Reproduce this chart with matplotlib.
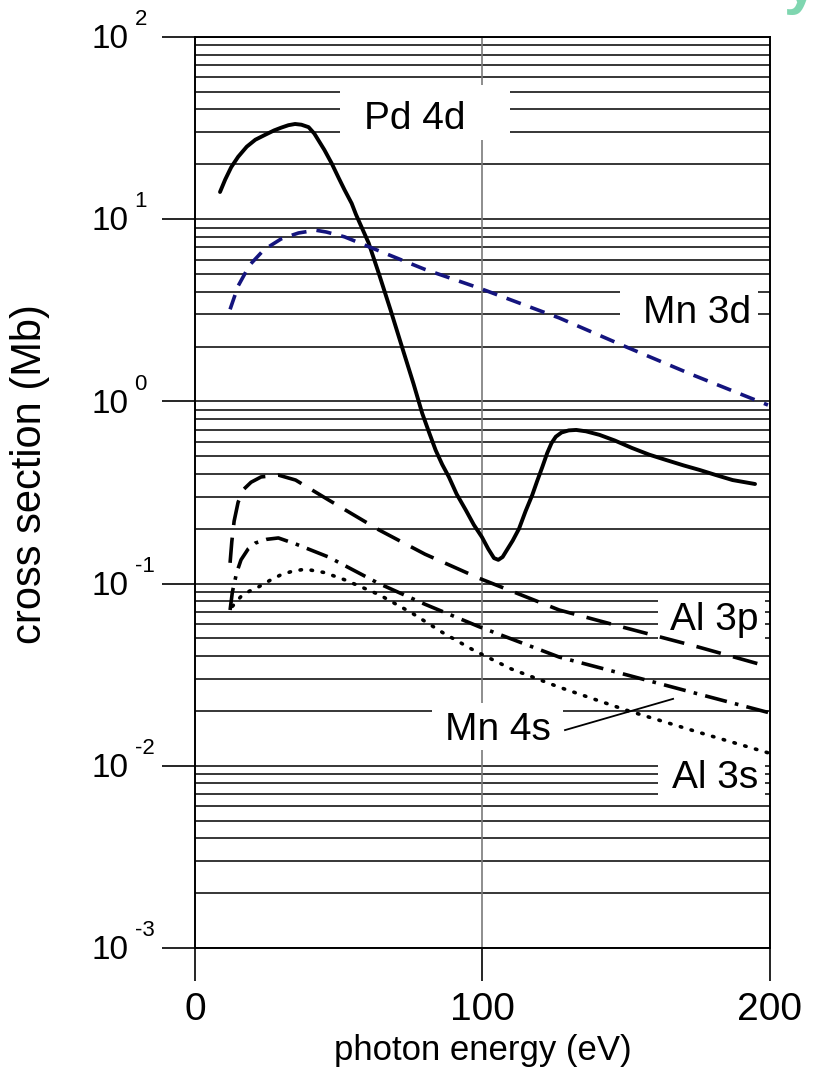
import numpy as np
import matplotlib
matplotlib.use("Agg")
import matplotlib.pyplot as plt
from matplotlib.ticker import FixedLocator, LogLocator, NullFormatter
from matplotlib.patches import Rectangle

plt.rcParams['font.family'] = ['Liberation Sans', 'DejaVu Sans']

# photoionisation cross sections (Mb) vs photon energy (eV)
pd4d_e = [8.7, 10.5, 12.6, 15, 18, 21, 24.3, 27.5, 30, 32.5, 34.8, 37, 39.5, 41.5, 43, 45,
          47.5, 50, 52, 54.5, 56, 58, 60.4, 64, 68, 72, 76, 79, 81.5, 83.7, 86, 88.3, 91,
          94.2, 97, 99.8, 102, 104, 105.5, 107, 108.5, 110.5, 112.7, 115, 117.3, 119, 120.8,
          122.5, 124, 125.5, 127.5, 130, 132.6, 136, 140.7, 146, 152, 158, 164, 170, 175.6,
          181, 187, 194.8]
pd4d_cs = [14.1, 16.5, 19.3, 22, 25, 27.3, 29, 30.7, 31.8, 32.8, 33.3, 33.0, 32, 29.5, 27, 24,
           20.3, 16.8, 14.5, 12.2, 10.6, 9.0, 7.4, 5.0, 3.18, 1.99, 1.25, 0.863, 0.67, 0.54,
           0.45, 0.385, 0.31, 0.253, 0.21, 0.18, 0.155, 0.138, 0.135, 0.14, 0.153, 0.172,
           0.2, 0.25, 0.306, 0.365, 0.436, 0.52, 0.59, 0.64, 0.675, 0.693, 0.697, 0.685,
           0.655, 0.61, 0.555, 0.51, 0.476, 0.445, 0.42, 0.395, 0.37, 0.352]

mn3d_e = [12.2, 15, 19, 24, 30, 36, 42, 45.7, 52, 64, 80, 98.8, 112.7, 126.7, 150, 173, 199.3]
mn3d_cs = [3.2, 4.3, 5.6, 6.8, 7.8, 8.4, 8.7, 8.5, 8.0, 6.7, 5.3, 4.19, 3.47, 2.87, 1.99, 1.4, 0.955]

al3p_e = [12.2, 12.8, 13.6, 15, 17, 19.5, 23, 29, 35, 46.4, 64, 80, 98.8, 126.7, 150, 175, 200]
al3p_cs = [0.13, 0.17, 0.22, 0.28, 0.33, 0.36, 0.385, 0.394, 0.37, 0.288, 0.197, 0.145,
           0.107, 0.0716, 0.057, 0.0449, 0.0348]

mn4s_e = [12.2, 13, 14.5, 16, 18.5, 21, 25, 29, 35, 46.4, 64, 80, 98.8, 126.7, 150, 175, 200]
mn4s_cs = [0.0716, 0.09, 0.115, 0.135, 0.155, 0.167, 0.175, 0.178, 0.165, 0.14, 0.1, 0.077,
           0.058, 0.0395, 0.0316, 0.0248, 0.0195]

al3s_e = [13, 16, 19, 22, 26, 30, 34, 38.4, 45, 52, 64, 75.4, 86, 97, 110, 126.7, 150, 175, 200]
al3s_cs = [0.075, 0.085, 0.091, 0.0957, 0.104, 0.112, 0.117, 0.12, 0.115, 0.105, 0.087,
           0.069, 0.054, 0.043, 0.034, 0.027, 0.0202, 0.0153, 0.0117]

xticks = [0, 100, 200]
ydecades = [-3, -2, -1, 0, 1, 2]

fig = plt.figure(figsize=(8.18, 10.78), dpi=100)
ax = fig.add_axes([0.2384, 0.1206, 0.7029, 0.8451])

ax.set_yscale('log')
ax.set_xlim(0, 200)
ax.set_ylim(1e-3, 1e2)

# horizontal grid at every decade subdivision, one vertical line at 100 eV
ax.set_axisbelow(True)
ax.yaxis.set_major_locator(FixedLocator([10.0 ** d for d in ydecades]))
ax.yaxis.set_minor_locator(LogLocator(base=10, subs=np.arange(2, 10)))
ax.yaxis.set_minor_formatter(NullFormatter())
ax.set_yticklabels([])
ax.grid(True, which='both', axis='y', color='black', lw=1.1)
ax.axvline(100, color='#7a7a7a', lw=1.2, zorder=1)

ax.set_xticks(xticks)
ax.set_xticklabels([str(v) for v in xticks])
ax.tick_params(axis='x', which='major', direction='out', length=24, width=1.2, labelsize=28, pad=8)
ax.tick_params(axis='y', which='major', direction='out', length=24, width=1.2)
ax.tick_params(axis='y', which='minor', length=0)
for sp in ax.spines.values():
    sp.set_linewidth(1.4)

# decade labels: "10" with a raised exponent
for d in ydecades:
    ax.annotate('10', xy=(0, 10.0 ** d), xycoords=('axes fraction', 'data'),
                xytext=(-48, -2), textcoords='offset points',
                fontsize=24, ha='right', va='center')
    ax.annotate(str(d), xy=(0, 10.0 ** d), xycoords=('axes fraction', 'data'),
                xytext=(-43.5, 8.5), textcoords='offset points',
                fontsize=16, ha='left', va='baseline')

ax.set_xlabel('photon energy (eV)', fontsize=25, labelpad=4)
fig.text(30 / 818, 1 - 474 / 1078, 'cross section (Mb)', fontsize=30,
         rotation=90, ha='center', va='center')

# curves
ax.plot(pd4d_e, pd4d_cs, color='black', lw=2.8, solid_capstyle='round',
        solid_joinstyle='round', zorder=3)
ax.plot(mn3d_e, mn3d_cs, color='#14147e', lw=2.6, dashes=(4.2, 2.8), zorder=3)
ax.plot(al3p_e, al3p_cs, color='black', lw=2.6, dashes=(7, 3.5), zorder=3)
ax.plot(mn4s_e, mn4s_cs, color='black', lw=2.6, dashes=(6.2, 2.3, 1.0, 2.3), zorder=3)
ax.plot(al3s_e, al3s_cs, color='black', lw=2.6, dashes=(0.4, 2.7),
        dash_capstyle='round', zorder=3)

# white label boxes that break the grid: (x0, x1, y0, y1)
boxes = [(50.4, 109.6, 27.2, 54.6),
         (147.8, 195.8, 2.47, 4.63),
         (161.0, 198.3, 0.0432, 0.0865),
         (161.0, 198.3, 0.00649, 0.01076),
         (82.4, 128.0, 0.0122, 0.0221)]
for x0, x1, y0, y1 in boxes:
    ax.add_patch(Rectangle((x0, y0), x1 - x0, y1 - y0, facecolor='white',
                           edgecolor='none', zorder=2))

labels = [('Pd 4d', 76.5, 31.3),
          ('Mn 3d', 174.6, 2.69),
          ('Al 3p', 180.7, 0.0556),
          ('Al 3s', 180.9, 0.00755),
          ('Mn 4s', 105.2, 0.01387)]
for txt, lx, ly in labels:
    ax.text(lx, ly, txt, fontsize=28, ha='center', va='baseline', zorder=4)

# leader from the Mn 4s label to its curve
ax.plot([128.7, 166.3], [0.0157, 0.0233], color='black', lw=1.3, zorder=3)

fig.text(1.0, 1 - 2 / 1078, 'y', fontsize=44, fontweight='bold',
         color='#7fd6b0', ha='right', va='baseline')

fig.savefig('out.png', dpi=100)
